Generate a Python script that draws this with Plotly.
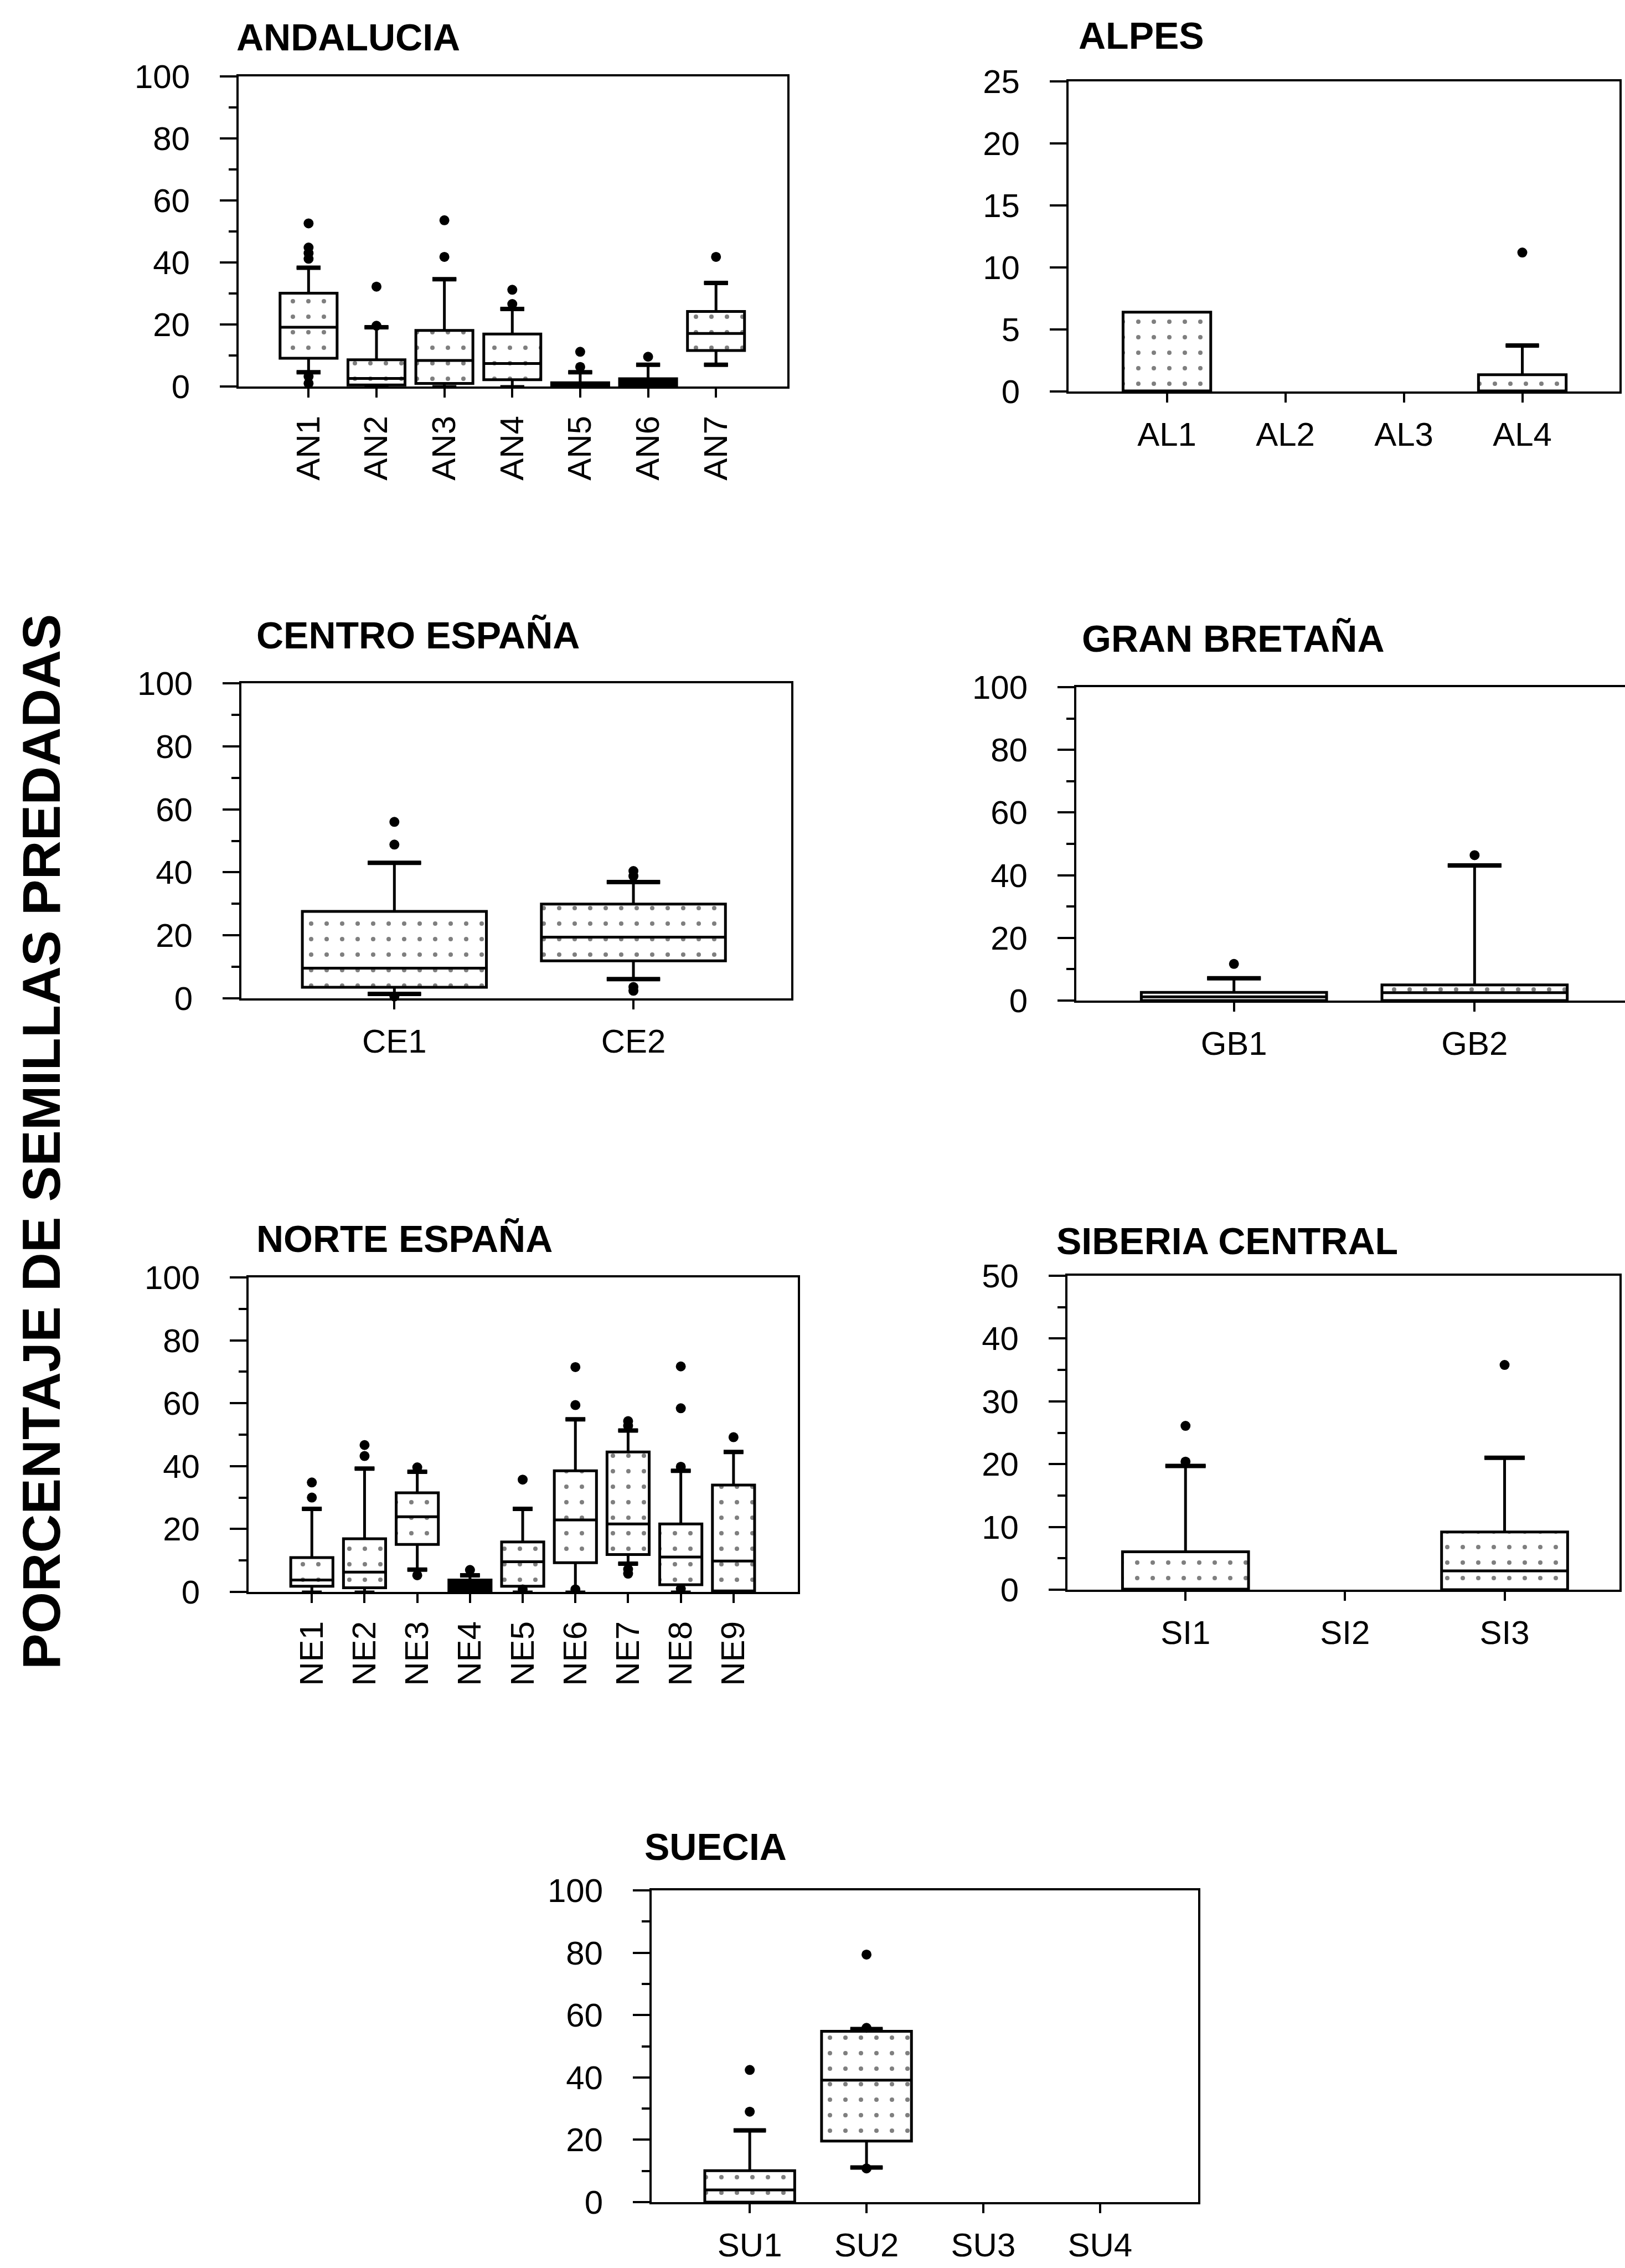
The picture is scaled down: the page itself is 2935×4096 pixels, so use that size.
import plotly.graph_objects as go

W, H = 2935, 4096

# ---------------- data (percentage of predated seeds) ----------------
AN_names = ["AN1", "AN2", "AN3", "AN4", "AN5", "AN6", "AN7"]
AN_q1 = [9.1, 0.5, 1.0, 2.2, 0.0, 0.0, 11.6]
AN_median = [19.1, 2.6, 8.4, 7.4, 0.4, 1.0, 17.1]
AN_q3 = [30.1, 8.6, 18.1, 16.9, 1.2, 2.5, 24.2]
AN_low = [4.6, 0.0, 0.0, 0.0, 0.0, 0.0, 7.0]
AN_high = [38.3, 19.1, 34.6, 25.0, 4.6, 7.0, 33.4]
AN_out_site = ["AN1", "AN1", "AN1", "AN1", "AN1", "AN1", "AN2", "AN2", "AN3", "AN3",
               "AN4", "AN4", "AN5", "AN5", "AN6", "AN7"]
AN_out_value = [52.6, 44.8, 43.0, 41.2, 3.2, 1.0, 19.6, 32.2, 41.8, 53.6,
                26.6, 31.2, 6.3, 11.2, 9.6, 41.8]

AL_names = ["AL1", "AL2", "AL3", "AL4"]
AL_q1 = [0.0, None, None, 0.0]
AL_median = [0.0, None, None, 0.0]
AL_q3 = [6.4, None, None, 1.35]
AL_low = [0.0, None, None, 0.0]
AL_high = [6.4, None, None, 3.7]
AL_out_site = ["AL4"]
AL_out_value = [11.2]

CE_names = ["CE1", "CE2"]
CE_q1 = [3.5, 11.9]
CE_median = [9.6, 19.4]
CE_q3 = [27.6, 29.9]
CE_low = [1.4, 6.1]
CE_high = [43.0, 36.9]
CE_out_site = ["CE1", "CE1", "CE1", "CE2", "CE2", "CE2", "CE2"]
CE_out_value = [56.0, 48.8, 0.6, 40.4, 38.8, 3.6, 2.4]

GB_names = ["GB1", "GB2"]
GB_q1 = [0.0, 0.0]
GB_median = [1.2, 2.5]
GB_q3 = [2.6, 5.0]
GB_low = [0.0, 0.0]
GB_high = [7.1, 43.1]
GB_out_site = ["GB1", "GB2"]
GB_out_value = [11.7, 46.4]

NE_names = ["NE1", "NE2", "NE3", "NE4", "NE5", "NE6", "NE7", "NE8", "NE9"]
NE_q1 = [1.8, 1.3, 15.1, 0.0, 1.8, 9.3, 11.9, 2.3, 0.3]
NE_median = [3.8, 6.3, 23.9, 1.5, 9.6, 22.9, 21.6, 11.1, 9.8]
NE_q3 = [10.9, 16.9, 31.5, 3.8, 15.9, 38.5, 44.5, 21.6, 34.0]
NE_low = [0.0, 0.0, 7.1, 0.0, 0.0, 0.0, 9.0, 0.0, 0.0]
NE_high = [26.4, 39.2, 38.2, 5.3, 26.4, 54.9, 51.3, 38.5, 44.5]
NE_out_site = ["NE1", "NE1", "NE2", "NE2", "NE3", "NE3", "NE4", "NE5", "NE5",
               "NE6", "NE6", "NE6", "NE7", "NE7", "NE7", "NE7",
               "NE8", "NE8", "NE8", "NE8", "NE9"]
NE_out_value = [30.0, 34.8, 43.2, 46.7, 39.6, 5.3, 7.0, 35.7, 0.8,
                59.4, 71.5, 0.8, 52.8, 54.3, 7.2, 5.8,
                39.8, 58.4, 71.7, 1.0, 49.2]

SI_names = ["SI1", "SI2", "SI3"]
SI_q1 = [0.0, None, 0.0]
SI_median = [0.0, None, 3.0]
SI_q3 = [6.05, None, 9.2]
SI_low = [0.0, None, 0.0]
SI_high = [19.7, None, 21.0]
SI_out_site = ["SI1", "SI1", "SI3"]
SI_out_value = [20.4, 26.1, 35.8]

SU_names = ["SU1", "SU2", "SU3", "SU4"]
SU_q1 = [0.0, 19.6, None, None]
SU_median = [3.9, 39.1, None, None]
SU_q3 = [10.1, 54.8, None, None]
SU_low = [0.0, 11.1, None, None]
SU_high = [23.0, 55.5, None, None]
SU_out_site = ["SU1", "SU1", "SU2", "SU2", "SU2"]
SU_out_value = [29.0, 42.4, 55.9, 79.4, 10.8]

Y_TITLE = "PORCENTAJE DE SEMILLAS PREDADAS"

# ---------------- styling / layout ----------------
FONT = "Liberation Sans, Arial, Helvetica, sans-serif"
DARK_BOXES = {"AN5", "AN6", "NE4"}

panels = [
    dict(title="ANDALUCIA", names=AN_names, q1=AN_q1, med=AN_median, q3=AN_q3,
         lo=AN_low, hi=AN_high, osite=AN_out_site, oval=AN_out_value,
         box=(431, 1422, 138, 698), ymax=100, dtick=20, minor=10,
         xr=[-0.03, 8.05], bw=0.84, ww=0.42, angle=-90, tpos=(425, 67)),
    dict(title="ALPES", names=AL_names, q1=AL_q1, med=AL_median, q3=AL_q3,
         lo=AL_low, hi=AL_high, osite=AL_out_site, oval=AL_out_value,
         box=(1930, 2925, 147, 707), ymax=25, dtick=5, minor=None,
         xr=[0.17, 4.82], bw=0.74, ww=0.38, angle=0, tpos=(1946, 64)),
    dict(title="CENTRO ESPAÑA", names=CE_names, q1=CE_q1, med=CE_median, q3=CE_q3,
         lo=CE_low, hi=CE_high, osite=CE_out_site, oval=CE_out_value,
         box=(436, 1429, 1234, 1803), ymax=100, dtick=20, minor=10,
         xr=[0.36, 2.66], bw=0.77, ww=0.29, angle=0, tpos=(461, 1147)),
    dict(title="GRAN BRETAÑA", names=GB_names, q1=GB_q1, med=GB_median, q3=GB_q3,
         lo=GB_low, hi=GB_high, osite=GB_out_site, oval=GB_out_value,
         box=(1944, 2935, 1241, 1807), ymax=100, dtick=20, minor=10,
         xr=[0.345, 2.625], bw=0.77, ww=0.29, angle=0, tpos=(1952, 1153)),
    dict(title="NORTE ESPAÑA", names=NE_names, q1=NE_q1, med=NE_median, q3=NE_q3,
         lo=NE_low, hi=NE_high, osite=NE_out_site, oval=NE_out_value,
         box=(449, 1441, 2307, 2875), ymax=100, dtick=20, minor=10,
         xr=[-0.2, 10.22], bw=0.8, ww=0.47, angle=-90, tpos=(461, 2237)),
    dict(title="SIBERIA CENTRAL", names=SI_names, q1=SI_q1, med=SI_median, q3=SI_q3,
         lo=SI_low, hi=SI_high, osite=SI_out_site, oval=SI_out_value,
         box=(1928, 2925, 2304, 2871), ymax=50, dtick=10, minor=5,
         xr=[0.26, 3.72], bw=0.79, ww=0.32, angle=0, tpos=(1906, 2241)),
    dict(title="SUECIA", names=SU_names, q1=SU_q1, med=SU_median, q3=SU_q3,
         lo=SU_low, hi=SU_high, osite=SU_out_site, oval=SU_out_value,
         box=(1177, 2164, 3414, 3977), ymax=100, dtick=20, minor=10,
         xr=[0.16, 4.84], bw=0.77, ww=0.36, angle=0, tpos=(1162, 3335)),
]

fig = go.Figure()
layout = {}
annotations = []

for k, p in enumerate(panels, start=1):
    xa = "x" if k == 1 else f"x{k}"
    ya = "y" if k == 1 else f"y{k}"
    names = p["names"]
    pos = list(range(1, len(names) + 1))
    idx = [i for i in range(len(names)) if p["q1"][i] is not None]

    def pick(key, sel):
        return [p[key][i] for i in sel]

    light = [i for i in idx if names[i] not in DARK_BOXES]
    dark = [i for i in idx if names[i] in DARK_BOXES]

    # stippled box bodies
    if light:
        fig.add_trace(go.Bar(
            x=[pos[i] for i in light],
            y=[b - a for a, b in zip(pick("q1", light), pick("q3", light))],
            base=pick("q1", light), width=p["bw"],
            marker=dict(color="white", line=dict(width=0),
                        pattern=dict(shape=".", fgcolor="black", bgcolor="white",
                                     size=28, solidity=0.065)),
            xaxis=xa, yaxis=ya, showlegend=False, hoverinfo="skip",
        ))
    # solid (very narrow) box bodies
    if dark:
        fig.add_trace(go.Bar(
            x=[pos[i] for i in dark],
            y=[b - a for a, b in zip(pick("q1", dark), pick("q3", dark))],
            base=pick("q1", dark), width=p["bw"],
            marker=dict(color="black", line=dict(width=0)),
            xaxis=xa, yaxis=ya, showlegend=False, hoverinfo="skip",
        ))
    # box outlines, medians, whiskers
    fig.add_trace(go.Box(
        x=[pos[i] for i in idx], q1=pick("q1", idx), median=pick("med", idx),
        q3=pick("q3", idx), lowerfence=pick("lo", idx), upperfence=pick("hi", idx),
        width=p["bw"], whiskerwidth=p["ww"], boxpoints=False,
        fillcolor="rgba(0,0,0,0)", line=dict(color="black", width=5),
        xaxis=xa, yaxis=ya, showlegend=False, hoverinfo="skip",
    ))
    # heavy whisker caps
    half = p["bw"] * p["ww"] / 2
    cx, cy = [], []
    for i in idx:
        for fence, edge, cmp in ((p["hi"][i], p["q3"][i], 1), (p["lo"][i], p["q1"][i], -1)):
            if (fence - edge) * cmp > 0 and fence > 0:
                cx += [pos[i] - half, pos[i] + half, None]
                cy += [fence, fence, None]
    if cx:
        fig.add_trace(go.Scatter(
            x=cx, y=cy, mode="lines", line=dict(color="black", width=8),
            xaxis=xa, yaxis=ya, showlegend=False, hoverinfo="skip",
        ))
    # outliers
    fig.add_trace(go.Scatter(
        x=[pos[names.index(s)] for s in p["osite"]], y=p["oval"],
        mode="markers", marker=dict(color="black", size=18, line=dict(width=0)),
        cliponaxis=False, xaxis=xa, yaxis=ya, showlegend=False, hoverinfo="skip",
    ))

    l, r, t, b = p["box"]
    xkey = "xaxis" if k == 1 else f"xaxis{k}"
    ykey = "yaxis" if k == 1 else f"yaxis{k}"
    layout[xkey] = dict(
        domain=[l / W, min(r / W, 1.0)], range=p["xr"], anchor=ya,
        tickmode="array", tickvals=pos, ticktext=names,
        ticks="outside", ticklen=16, tickwidth=4, tickcolor="black",
        showline=True, linewidth=4, linecolor="black", mirror=True,
        showgrid=False, zeroline=False, tickangle=p["angle"],
        tickfont=dict(family=FONT, size=60, color="black"),
        ticklabelstandoff=6 if p["angle"] == 0 else 9,
        automargin=False, fixedrange=True,
    )
    yax = dict(
        domain=[1 - b / H, 1 - t / H], range=[0, p["ymax"]], anchor=xa,
        tickmode="linear", tick0=0, dtick=p["dtick"],
        ticks="outside", ticklen=30, tickwidth=4, tickcolor="black",
        showline=True, linewidth=4, linecolor="black", mirror=True,
        showgrid=False, zeroline=False,
        tickfont=dict(family=FONT, size=60, color="black"),
        ticklabelstandoff=42, automargin=False, fixedrange=True,
    )
    if p["minor"]:
        yax["minor"] = dict(ticks="outside", ticklen=14, tickwidth=4,
                            tickcolor="black", dtick=p["minor"], tick0=0,
                            showgrid=False)
    layout[ykey] = yax

    tx, ty = p["tpos"]
    annotations.append(dict(
        text=f"<b>{p['title']}</b>", xref="paper", yref="paper",
        x=tx / W, y=1 - ty / H, xanchor="left", yanchor="middle",
        showarrow=False, font=dict(family=FONT, size=68, color="black"),
    ))

annotations.append(dict(
    text=f"<b>{Y_TITLE}</b>", xref="paper", yref="paper",
    x=74 / W, y=1 - 2062 / H, xanchor="center", yanchor="middle",
    textangle=-90, showarrow=False,
    font=dict(family=FONT, size=97, color="black"),
))

fig.update_layout(
    width=W, height=H, autosize=False,
    margin=dict(l=0, r=0, t=0, b=0, pad=0, autoexpand=False),
    paper_bgcolor="white", plot_bgcolor="white",
    showlegend=False, barmode="overlay",
    annotations=annotations, **layout,
)

fig.write_html("out.html")
